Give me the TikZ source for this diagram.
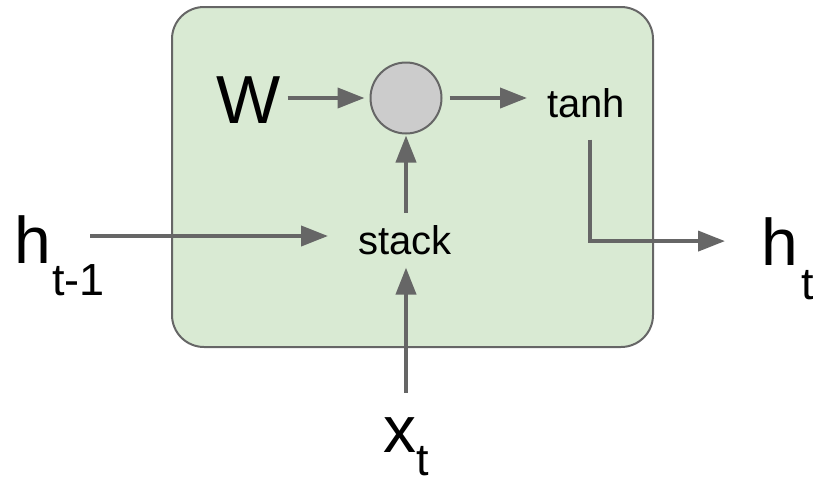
\documentclass[tikz,border=0pt]{standalone}
\usepackage{fontspec}
\setmainfont{Liberation Sans}
\usetikzlibrary{arrows.meta}
\definecolor{cellgreen}{HTML}{D9EAD3}
\definecolor{linegray}{HTML}{666666}
\definecolor{opgray}{HTML}{CCCCCC}
\begin{document}
\begin{tikzpicture}[x=1pt,y=-1pt,
  arr/.style={draw=linegray, line width=4pt, -{Triangle[length=27pt,width=20pt]}},
  big/.style={inner sep=0pt, font=\fontsize{66}{66}\selectfont},
  sub/.style={inner sep=0pt, font=\fontsize{45}{45}\selectfont},
  lbl/.style={inner sep=0pt, font=\fontsize{40}{40}\selectfont},
  cellbox/.style={draw=linegray, fill=cellgreen, line width=2pt, rounded corners=32pt, inner sep=0pt},
  opnode/.style={circle, fill=opgray, draw=linegray, line width=2pt, minimum size=71pt, inner sep=0pt}
]
\useasboundingbox (0,0) rectangle (813,480);
\node[cellbox, minimum width=481pt, minimum height=340pt] (cell) at (412.5,177) {};
\node[opnode] (op) at (406,98) {};
\node[inner sep=0pt, font=\fontsize{68}{68}\selectfont, anchor=base west] (W) at (216,123) {W};
\node[lbl, anchor=base west] (tanh) at (547,117) {tanh};
\node[lbl, anchor=base west] (stack) at (358,254) {stack};
\node[big, anchor=base west] (hp) at (14,263) {h};
\node[sub, anchor=base west] (hpsub) at (52,295) {t-1};
\node[big, anchor=base west] (ht) at (761,265) {h};
\node[sub, anchor=base west] (htsub) at (801,299) {t};
\node[big, anchor=base west] (x) at (383,452) {x};
\node[sub, anchor=base west] (xsub) at (416,475) {t};
\coordinate (hin) at (90,236);
\draw[arr, shorten <=7pt, shorten >=5pt] (W.east |- op) -- (op.west);
\draw[arr, shorten <=7pt, shorten >=20pt] (op.east) -- (op.east -| tanh.west);
\draw[arr, shorten <=12pt, shorten >=1pt] (stack.north -| op) -- (op.south);
\draw[arr, shorten <=24pt, shorten >=13pt] (x.north -| op) -- (stack.south -| op);
\draw[arr, shorten >=30pt] (hin) -- (hin -| stack.west);
\draw[arr, shorten <=22pt, shorten >=36pt] ([xshift=4pt]tanh.south) |- (ht.west);
\end{tikzpicture}
\end{document}
